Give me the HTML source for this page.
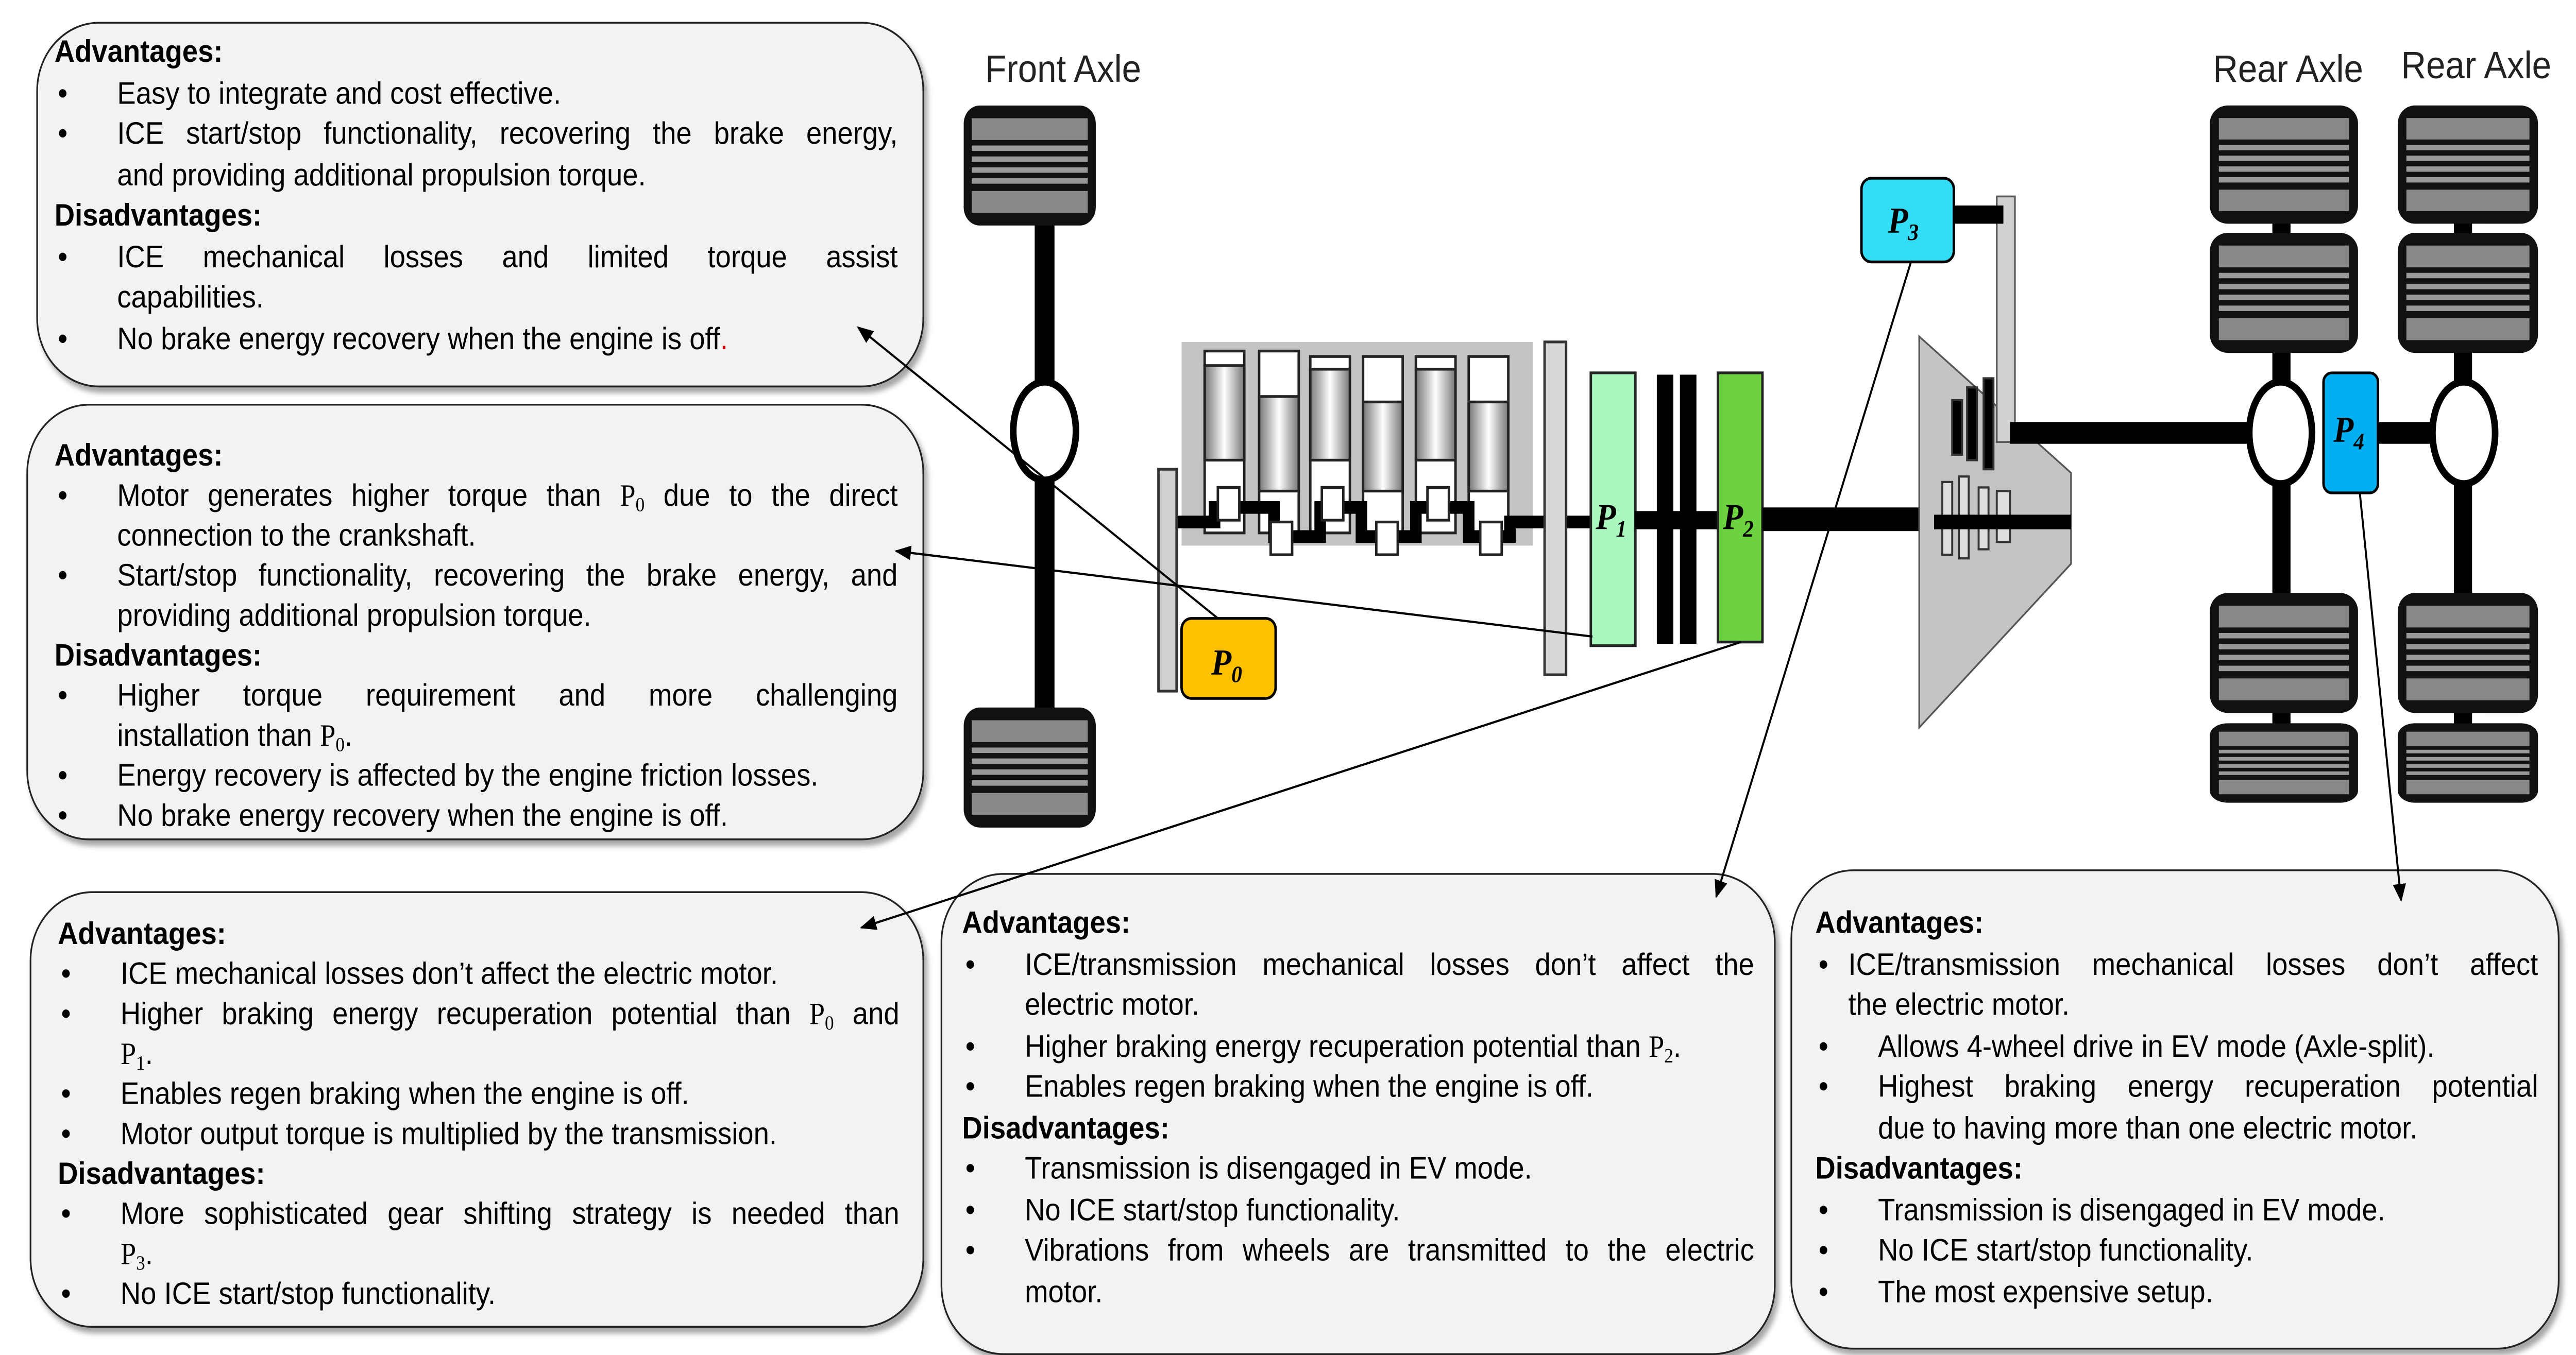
<!DOCTYPE html>
<html><head><meta charset="utf-8"><style>
html,body{margin:0;padding:0;background:#fff;overflow:hidden;width:100%;height:100%;}
#root{position:absolute;left:0;top:0;width:100vw;height:100vh;display:block;}
.wrap{position:relative;width:1561px;height:745px;font-family:"Liberation Sans",Arial,sans-serif;}
.box{position:absolute;background:#f2f2f2;border:1.3px solid #222;border-radius:38px;box-shadow:2px 3px 3px rgba(0,0,0,.35);box-sizing:border-box;font-size:17px;line-height:22.5px;color:#000;}
.h{font-weight:bold;}
.li{position:relative;padding-left:38px;text-align:justify;text-align-last:left;}
.li:before{content:"•";position:absolute;left:2px;top:0;}
.j{display:block;text-align:justify;text-align-last:justify;}
.m{font-family:"Liberation Serif",serif;}
.m sub{font-size:11px;line-height:0;vertical-align:baseline;position:relative;top:3px;}
.lbl{font-family:"Liberation Sans Narrow","Liberation Sans",sans-serif;font-size:21px;fill:#222;}
</style></head><body>
<svg id="root" viewBox="0 0 1561 745" preserveAspectRatio="none">
<defs>
<symbol id="wh" viewBox="0 0 84 68" preserveAspectRatio="none">
<rect x="1" y="1" width="82" height="66" rx="10" fill="#111"/>
<rect x="6" y="8" width="72" height="12" fill="#888"/>
<rect x="6" y="23" width="72" height="3" fill="#999"/>
<rect x="6" y="29" width="72" height="3" fill="#999"/>
<rect x="6" y="35" width="72" height="3" fill="#999"/>
<rect x="6" y="41" width="72" height="3" fill="#999"/>
<rect x="6" y="48" width="72" height="12" fill="#888"/>
</symbol>
<linearGradient id="cyl" x1="0" x2="1"><stop offset="0" stop-color="#777"/><stop offset=".5" stop-color="#fff"/><stop offset="1" stop-color="#777"/></linearGradient>
<marker id="ar" markerWidth="10" markerHeight="8" refX="9" refY="4" orient="auto" markerUnits="userSpaceOnUse"><path d="M0,0 L10,4 L0,8 z" fill="#000"/></marker>
</defs>
<text class="lbl" x="597" y="45">Front Axle</text>
<rect x="627" y="120" width="12" height="275" fill="#000"/>
<use href="#wh" x="583" y="57" width="82" height="68"/>
<use href="#wh" x="583" y="388" width="82" height="68"/>
<ellipse cx="633" cy="237" rx="19" ry="27" fill="#fff" stroke="#000" stroke-width="4"/>
<rect x="716" y="188" width="213" height="112" fill="#c4c4c4"/>
<g stroke="#222" stroke-width="1.5">
<rect x="730" y="193" width="24" height="100" fill="#fff"/><rect x="730" y="201" width="24" height="52" fill="url(#cyl)"/>
<rect x="763" y="193" width="24" height="100" fill="#fff"/><rect x="763" y="218" width="24" height="52" fill="url(#cyl)"/>
<rect x="794" y="196" width="24" height="97" fill="#fff"/><rect x="794" y="203" width="24" height="50" fill="url(#cyl)"/>
<rect x="826" y="196" width="24" height="97" fill="#fff"/><rect x="826" y="221" width="24" height="49" fill="url(#cyl)"/>
<rect x="858" y="196" width="24" height="97" fill="#fff"/><rect x="858" y="203" width="24" height="50" fill="url(#cyl)"/>
<rect x="890" y="196" width="24" height="97" fill="#fff"/><rect x="890" y="221" width="24" height="49" fill="url(#cyl)"/>
</g>
<path d="M712,287 L736,287 L736,279 L772,279 L772,295 L800,295 L800,279 L825,279 L825,295 L858,295 L858,279 L890,279 L890,295 L915,295 L915,287 L965,287" fill="none" stroke="#000" stroke-width="7"/>
<g fill="#fff" stroke="#222" stroke-width="1.5">
<rect x="738" y="268" width="13" height="18"/><rect x="770" y="287" width="13" height="18"/><rect x="801" y="268" width="13" height="18"/><rect x="834" y="287" width="13" height="18"/><rect x="865" y="268" width="13" height="18"/><rect x="897" y="287" width="13" height="18"/>
</g>
<rect x="702" y="258" width="11" height="122" fill="#d0d0d0" stroke="#333" stroke-width="1.5"/>
<rect x="716" y="340" width="57" height="44" rx="6" fill="#ffc000" stroke="#000" stroke-width="1.5"/>
<text x="734" y="371" font-family="Liberation Serif" font-style="italic" font-weight="bold" font-size="20">P<tspan font-size="13" dy="4">0</tspan></text>
<rect x="936" y="188" width="13" height="183" fill="#d8d8d8" stroke="#333" stroke-width="1.5"/>
<rect x="964" y="205" width="27" height="150" fill="#aaf8c0" stroke="#222" stroke-width="1.5"/>
<text x="967" y="291" font-family="Liberation Serif" font-style="italic" font-weight="bold" font-size="20">P<tspan font-size="13" dy="4">1</tspan></text>
<rect x="991" y="281" width="50" height="10" fill="#000"/>
<rect x="1004" y="206" width="10" height="148" fill="#000"/>
<rect x="1018" y="206" width="10" height="148" fill="#000"/>
<rect x="1041" y="205" width="27" height="148" fill="#6cd240" stroke="#222" stroke-width="1.5"/>
<text x="1044" y="291" font-family="Liberation Serif" font-style="italic" font-weight="bold" font-size="20">P<tspan font-size="13" dy="4">2</tspan></text>
<rect x="1068" y="279" width="130" height="13" fill="#000"/>
<polygon points="1163,185 1255,260 1255,310 1163,400" fill="#c4c4c4" stroke="#555" stroke-width="1"/>
<g stroke="#333" stroke-width="1.2">
<rect x="1177" y="265" width="6" height="40" fill="#ddd"/><rect x="1187" y="262" width="6" height="45" fill="#ddd"/><rect x="1199" y="268" width="6" height="34" fill="#ddd"/><rect x="1210" y="270" width="8" height="28" fill="#ddd"/>
<rect x="1183" y="220" width="6" height="30" fill="#000"/><rect x="1192" y="213" width="6" height="40" fill="#000"/><rect x="1202" y="208" width="6" height="50" fill="#000"/>
</g>
<rect x="1172" y="283" width="83" height="8" fill="#000"/>
<rect x="1210" y="108" width="11" height="135" fill="#d0d0d0" stroke="#555" stroke-width="1"/>
<rect x="1184" y="113" width="30" height="10" fill="#000"/>
<rect x="1128" y="98" width="56" height="46" rx="6" fill="#33ddf5" stroke="#000" stroke-width="1.5"/>
<text x="1144" y="128" font-family="Liberation Serif" font-style="italic" font-weight="bold" font-size="20">P<tspan font-size="13" dy="4">3</tspan></text>
<rect x="1218" y="232" width="150" height="12" fill="#000"/>
<text class="lbl" x="1341" y="45">Rear Axle</text>
<text class="lbl" x="1455" y="43">Rear Axle</text>
<rect x="1377" y="120" width="11" height="280" fill="#000"/>
<rect x="1487" y="120" width="11" height="280" fill="#000"/>
<use href="#wh" x="1338" y="57" width="92" height="67"/>
<use href="#wh" x="1338" y="127" width="92" height="68"/>
<use href="#wh" x="1338" y="325" width="92" height="68"/>
<use href="#wh" x="1338" y="397" width="92" height="45"/>
<use href="#wh" x="1452" y="57" width="87" height="67"/>
<use href="#wh" x="1452" y="127" width="87" height="68"/>
<use href="#wh" x="1452" y="325" width="87" height="68"/>
<use href="#wh" x="1452" y="397" width="87" height="45"/>
<rect x="1430" y="232" width="60" height="12" fill="#000"/>
<ellipse cx="1382" cy="238" rx="19" ry="28" fill="#fff" stroke="#000" stroke-width="4"/>
<ellipse cx="1493" cy="238" rx="19" ry="28" fill="#fff" stroke="#000" stroke-width="4"/>
<rect x="1408" y="205" width="33" height="66" rx="5" fill="#00b0f0" stroke="#000" stroke-width="1.5"/>
<text x="1414" y="243" font-family="Liberation Serif" font-style="italic" font-weight="bold" font-size="20">P<tspan font-size="13" dy="4">4</tspan></text>
<foreignObject x="0" y="0" width="1561" height="745">
<div xmlns="http://www.w3.org/1999/xhtml" class="wrap">

<div class="box" style="left:22px;top:12px;width:538px;height:201px;padding:5px 15px 0 10px;">
<div class="h">Advantages:</div>
<div class="li">Easy to integrate and cost effective.</div>
<div class="li"><span class="j">ICE start/stop functionality, recovering the brake energy,</span>and providing additional propulsion torque.</div>
<div class="h">Disadvantages:</div>
<div class="li"><span class="j">ICE mechanical losses and limited torque assist</span>capabilities.</div>
<div class="li">No brake energy recovery when the engine is off<span style="color:#c00">.</span></div>
</div>

<div class="box" style="left:16px;top:222px;width:544px;height:240px;padding:17px 15px 0 16px;line-height:22px;">
<div class="h">Advantages:</div>
<div class="li"><span class="j">Motor generates higher torque than <span class="m">P<sub>0</sub></span> due to the direct</span>connection to the crankshaft.</div>
<div class="li"><span class="j">Start/stop functionality, recovering the brake energy, and</span>providing additional propulsion torque.</div>
<div class="h">Disadvantages:</div>
<div class="li"><span class="j">Higher torque requirement and more challenging</span>installation than <span class="m">P<sub>0</sub></span>.</div>
<div class="li">Energy recovery is affected by the engine friction losses.</div>
<div class="li">No brake energy recovery when the engine is off.</div>
</div>

<div class="box" style="left:18px;top:490px;width:542px;height:240px;padding:12px 14px 0 16px;line-height:22px;">
<div class="h">Advantages:</div>
<div class="li">ICE mechanical losses don’t affect the electric motor.</div>
<div class="li"><span class="j">Higher braking energy recuperation potential than <span class="m">P<sub>0</sub></span> and</span><span class="m">P<sub>1</sub></span>.</div>
<div class="li">Enables regen braking when the engine is off.</div>
<div class="li">Motor output torque is multiplied by the transmission.</div>
<div class="h">Disadvantages:</div>
<div class="li"><span class="j">More sophisticated gear shifting strategy is needed than</span><span class="m">P<sub>3</sub></span>.</div>
<div class="li">No ICE start/stop functionality.</div>
</div>

<div class="box" style="left:570px;top:480px;width:506px;height:265px;padding:16px 12px 0 12px;">
<div class="h">Advantages:</div>
<div class="li"><span class="j">ICE/transmission mechanical losses don’t affect the</span>electric motor.</div>
<div class="li">Higher braking energy recuperation potential than <span class="m">P<sub>2</sub></span>.</div>
<div class="li">Enables regen braking when the engine is off.</div>
<div class="h">Disadvantages:</div>
<div class="li">Transmission is disengaged in EV mode.</div>
<div class="li">No ICE start/stop functionality.</div>
<div class="li"><span class="j">Vibrations from wheels are transmitted to the electric</span>motor.</div>
</div>

<div class="box" style="left:1085px;top:478px;width:466px;height:264px;padding:18px 12px 0 14px;">
<div class="h">Advantages:</div>
<div class="li" style="padding-left:20px"><span class="j">ICE/transmission mechanical losses don’t affect</span>the electric motor.</div>
<div class="li">Allows 4-wheel drive in EV mode (Axle-split).</div>
<div class="li"><span class="j">Highest braking energy recuperation potential</span>due to having more than one electric motor.</div>
<div class="h">Disadvantages:</div>
<div class="li">Transmission is disengaged in EV mode.</div>
<div class="li">No ICE start/stop functionality.</div>
<div class="li">The most expensive setup.</div>
</div>
</div>
</foreignObject>
<g stroke="#000" stroke-width="1.2" marker-end="url(#ar)">
<line x1="738" y1="340" x2="520" y2="180"/>
<line x1="965" y1="350" x2="543" y2="303"/>
<line x1="1055" y1="353" x2="522" y2="510"/>
<line x1="1158" y1="144" x2="1040" y2="493"/>
<line x1="1430" y1="271" x2="1455" y2="495"/>
</g>
</svg>
</body></html>
